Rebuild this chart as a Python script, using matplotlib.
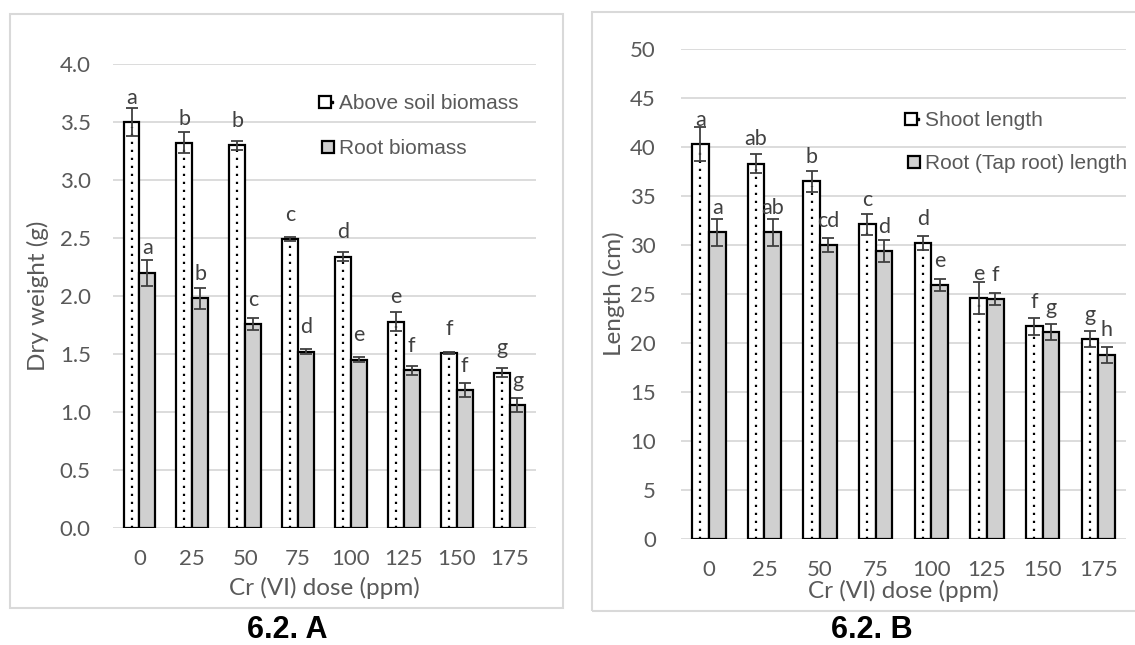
import matplotlib
matplotlib.use('Agg')
import matplotlib.pyplot as plt
import numpy as np
from matplotlib.lines import Line2D
from matplotlib.legend_handler import HandlerTuple
from matplotlib.patches import Rectangle

# Data
doses = ['0', '25', '50', '75', '100', '125', '150', '175']

above_soil = [3.50, 3.32, 3.30, 2.49, 2.34, 1.78, 1.51, 1.34]
above_soil_err = [0.12, 0.09, 0.04, 0.02, 0.04, 0.08, 0.01, 0.04]
above_soil_letters = ['a', 'b', 'b', 'c', 'd', 'e', 'f', 'g']
root_biomass = [2.20, 1.98, 1.76, 1.52, 1.45, 1.36, 1.19, 1.06]
root_biomass_err = [0.11, 0.09, 0.05, 0.02, 0.02, 0.04, 0.06, 0.06]
root_biomass_letters = ['a', 'b', 'c', 'd', 'e', 'f', 'f', 'g']

shoot_len = [40.3, 38.3, 36.5, 32.1, 30.2, 24.6, 21.7, 20.4]
shoot_len_err = [1.7, 1.0, 1.1, 1.1, 0.7, 1.6, 0.9, 0.8]
shoot_len_letters = ['a', 'ab', 'b', 'c', 'd', 'e', 'f', 'g']
root_len = [31.3, 31.3, 30.0, 29.4, 25.9, 24.5, 21.1, 18.8]
root_len_err = [1.4, 1.4, 0.7, 1.1, 0.6, 0.6, 0.8, 0.8]
root_len_letters = ['a', 'ab', 'cd', 'd', 'e', 'f', 'g', 'h']

W, H = 1135, 645
TICK = '#595959'
GRID = '#d9d9d9'
GREY_BAR = '#d0d0d0'
TFONT = 'Lato'
LFONT = 'Liberation Sans'

fig = plt.figure(figsize=(W / 100, H / 100), dpi=100)


def px_axes(l, t, r, b):
    return fig.add_axes([l / W, 1 - b / H, (r - l) / W, (b - t) / H])


def draw_panel(ax, s1, e1, l1, s2, e2, l2, names, ymax, ystep, fmt, ylabel, ypad, xpad, ylpad):
    x = np.arange(len(doses))
    bw = 0.3
    ax.bar(x - bw / 2, s1, width=bw, color='white', edgecolor='black', linewidth=1.6, zorder=2)
    ax.vlines(x - bw / 2, 0, np.array(s1) - 0.01 * ymax, colors='black',
              linestyles=(0, (1, 2.6)), linewidth=1.6, zorder=3)
    ax.bar(x + bw / 2, s2, width=bw, color=GREY_BAR, edgecolor='black', linewidth=1.6, zorder=2)
    for xs, vals, errs in [(x - bw / 2, s1, e1), (x + bw / 2, s2, e2)]:
        ax.errorbar(xs, vals, yerr=errs, fmt='none', ecolor='#404040', elinewidth=1.3,
                    capsize=4.5, capthick=1.3, zorder=4)
    for xs, vals, labs in [(x - bw / 2, s1, l1), (x + bw / 2, s2, l2)]:
        for xi, v, t in zip(xs, vals, labs):
            ax.annotate(t, (xi, v), xytext=(0, 17.5), textcoords='offset points',
                        ha='center', va='center', fontsize=15.5, color='#404040', family=TFONT)
    ax.set_xlim(-0.5, len(doses) - 0.5)
    ax.set_ylim(0, ymax)
    yt = np.arange(0, ymax + ystep / 2, ystep)
    ax.set_yticks(yt)
    ax.set_yticklabels([fmt.format(v) for v in yt])
    ax.set_xticks(x)
    ax.set_xticklabels(doses)
    ax.grid(axis='y', color=GRID, linewidth=1.3)
    ax.set_axisbelow(True)
    for s in ax.spines.values():
        s.set_visible(False)
    ax.tick_params(axis='both', length=0, labelsize=16, labelcolor=TICK)
    ax.tick_params(axis='y', pad=ypad)
    ax.tick_params(axis='x', pad=xpad)
    for lab in ax.get_xticklabels() + ax.get_yticklabels():
        lab.set_family(TFONT)
    ax.set_ylabel(ylabel, fontsize=17.5, color=TICK, family=TFONT, labelpad=ylpad)
    h1 = (Line2D([], [], marker='s', ms=9, mfc='white', mec='black', mew=1.6, ls=''),
          Line2D([], [], marker='s', ms=1.8, mfc='black', mec='black', ls=''))
    h2 = Line2D([], [], marker='s', ms=9, mfc=GREY_BAR, mec='black', mew=1.6, ls='')
    return [h1, h2], names


# Panel A
axA = px_axes(113, 64, 536, 528)
hA, nA = draw_panel(axA, above_soil, above_soil_err, above_soil_letters,
                    root_biomass, root_biomass_err, root_biomass_letters,
                    ['Above soil biomass', 'Root biomass'], 4.0, 0.5, '{:.1f}',
                    'Dry weight (g)', 16, 15, 8)
axA.set_xlabel('Cr (VI) dose (ppm)', fontsize=17.5, color=TICK, family=TFONT, labelpad=6)
axA.legend(hA, nA, handler_map={tuple: HandlerTuple(ndivide=None, pad=0)},
           loc='upper left', bbox_to_anchor=(321 / W, 1 - 94 / H), bbox_transform=fig.transFigure,
           frameon=False, prop={'family': LFONT, 'size': 15}, labelcolor=TICK,
           handlelength=0.7, handletextpad=0.15, labelspacing=1.25, borderpad=0, borderaxespad=0)

# Panel B
axB = px_axes(681, 49, 1126, 539)
hB, nB = draw_panel(axB, shoot_len, shoot_len_err, shoot_len_letters,
                    root_len, root_len_err, root_len_letters,
                    ['Shoot length', 'Root (Tap root) length'], 50, 5, '{:.0f}',
                    'Length (cm)', 18, 15, 4)
axB.set_xlabel('Cr (VI) dose (ppm)', fontsize=17.5, color=TICK, family=TFONT, labelpad=0)
axB.legend(hB, nB, handler_map={tuple: HandlerTuple(ndivide=None, pad=0)},
           loc='upper left', bbox_to_anchor=(907 / W, 1 - 111 / H), bbox_transform=fig.transFigure,
           frameon=False, prop={'family': LFONT, 'size': 15}, labelcolor=TICK,
           handlelength=0.7, handletextpad=0.15, labelspacing=1.15, borderpad=0, borderaxespad=0)

# frames around the two panels and the captions
fig.add_artist(Rectangle((10 / W, 1 - 608 / H), 553 / W, 594 / H, transform=fig.transFigure,
                         fill=False, edgecolor=GRID, linewidth=1.5))
fig.add_artist(Rectangle((592 / W, 1 - 611 / H), 560 / W, 599 / H, transform=fig.transFigure,
                         fill=False, edgecolor=GRID, linewidth=1.5))
fig.text(287 / W, 1 - 630 / H, '6.2. A', ha='center', va='center', fontsize=22,
         fontweight='bold', family=LFONT)
fig.text(872 / W, 1 - 630 / H, '6.2. B', ha='center', va='center', fontsize=22,
         fontweight='bold', family=LFONT)

fig.savefig('out.png', dpi=100)
